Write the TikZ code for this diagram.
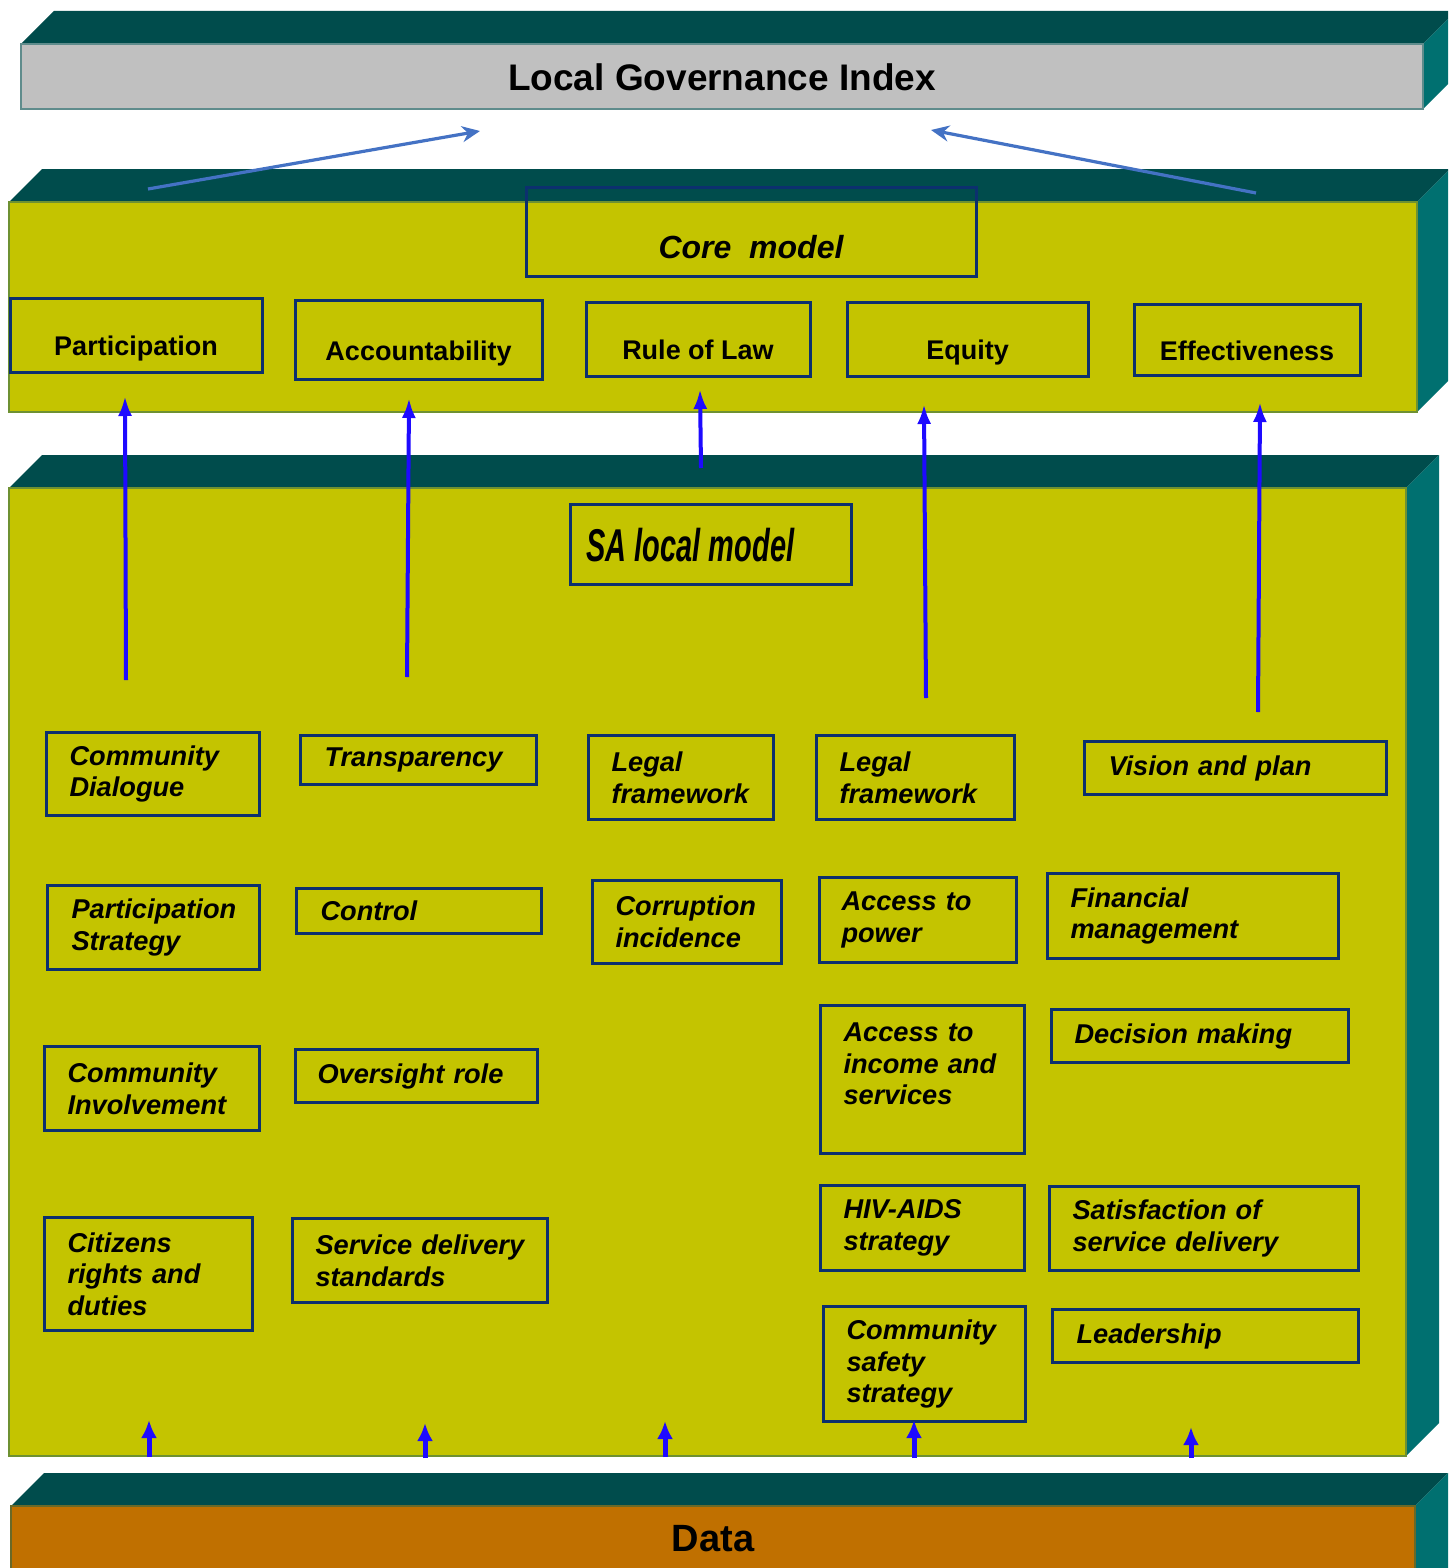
\documentclass[tikz,border=0pt]{standalone}
\usepackage{fontspec}
\setmainfont{Liberation Sans}
\usetikzlibrary{arrows.meta}
\hyphenpenalty=10000
\exhyphenpenalty=10000

\definecolor{slabtop}{RGB}{0,76,76}
\definecolor{slabside}{RGB}{0,112,112}
\definecolor{olivefill}{RGB}{196,196,0}
\definecolor{oliveedge}{RGB}{110,145,50}
\definecolor{lgigrey}{RGB}{192,192,192}
\definecolor{lgiedge}{RGB}{95,140,140}
\definecolor{dataorange}{RGB}{192,112,0}
\definecolor{dataedge}{RGB}{105,105,40}
\definecolor{boxnavy}{RGB}{12,48,110}
\definecolor{linkblue}{RGB}{30,10,255}
\definecolor{indexblue}{RGB}{68,114,196}

% a 3-D slab: front face x1 y1 x2 y2, fill and edge colour of the front
\newcommand\drawslab[6]{%
  \fill[slabtop] (#1,#2) -- (#1+33,#2-33) -- (#3+33,#2-33) -- (#3,#2) -- cycle;
  \fill[slabside] (#3,#2) -- (#3+33,#2-33) -- (#3+33,#4-33) -- (#3,#4) -- cycle;
  \filldraw[fill=#5, draw=#6, line width=1pt] (#1,#2) rectangle (#3,#4);}

% an indicator box: name, x1, y1, x2, y2, left edge of text, text
\newcommand\sabox[7]{%
  \pgfmathsetmacro\sbw{(#4-#2)/2}%
  \pgfmathsetmacro\sbh{(#5-#3)/2}%
  \pgfmathsetmacro\sbp{(#6-#2)/2}%
  \pgfmathsetmacro\sbt{\sbw-2*\sbp}%
  \node[itembox, anchor=north west, minimum width=\sbw pt, minimum height=\sbh pt,
        inner xsep=\sbp pt, text width=\sbt pt] (#1) at (#2,#3) {#7};}

\tikzset{
  corebox/.style={draw=boxnavy, line width=1.5pt, inner sep=0pt,
    font=\fontsize{13.5}{16}\selectfont\bfseries, text height=20.6pt, text depth=0pt},
  itembox/.style={draw=boxnavy, line width=1.5pt, inner ysep=0pt, align=left,
    font=\fontsize{13.6}{15.8}\selectfont\bfseries\itshape},
  corearrow/.style={draw=linkblue, line width=2pt, -{Latex[length=10pt,width=7pt]}},
  basearrow/.style={draw=linkblue, line width=2.5pt, -{Latex[length=9pt,width=8pt]}},
  indexarrow/.style={draw=indexblue, line width=1.6pt, -{Stealth[length=9pt,width=8pt]}},
}

\begin{document}
\begin{tikzpicture}[x=0.5pt, y=-0.5pt]
\useasboundingbox (0,0) rectangle (1448,1568);
\fill[white] (0,0) rectangle (1448,1568);
\clip (0,0) rectangle (1448,1568);

% slabs
\drawslab{21}{44}{1423}{109}{lgigrey}{lgiedge}
\drawslab{9}{202}{1417}{412}{olivefill}{oliveedge}
\drawslab{9}{488}{1406}{1456}{olivefill}{oliveedge}
\drawslab{11}{1506}{1415}{1620}{dataorange}{dataedge}

% slab titles
\node[font=\fontsize{18.5}{20}\selectfont\bfseries] (lgi) at (722,77) {Local Governance Index};
\node[font=\fontsize{19}{21}\selectfont\bfseries] (data) at (713,1539) {Data};

% core model
\node[corebox, minimum width=225pt, minimum height=44.5pt, text height=27pt,
      font=\fontsize{16}{18}\selectfont\bfseries\itshape] (core) at (751,231.5) {Core~ model};
\node[corebox, minimum width=126pt, minimum height=37pt] (part) at (136,335) {Participation};
\node[corebox, minimum width=123.5pt, minimum height=39.5pt] (acc) at (418.5,339.5) {Accountability};
\node[corebox, minimum width=112pt, minimum height=37pt] (rol) at (698,339) {Rule of Law};
\node[corebox, minimum width=120.5pt, minimum height=37pt] (equ) at (967.5,339) {Equity};
\node[corebox, minimum width=113pt, minimum height=35.5pt] (eff) at (1247,339.5) {Effectiveness};

% SA local model
\node[draw=boxnavy, line width=1.5pt, anchor=north west, inner xsep=8pt, inner ysep=0pt,
      minimum height=40pt, text height=17pt, text depth=0pt] (sam) at (569,503)
  {\makebox[124.5pt][l]{\scalebox{0.63}[1]{\fontsize{23}{23}\selectfont\bfseries\itshape SA local model}}};

% indicators
\sabox{cd}{45}{731}{258}{814}{68}{Community\\Dialogue}
\sabox{pst}{46}{884}{258}{968}{70}{Participation\\Strategy}
\sabox{cin}{43}{1045}{258}{1129}{66}{Community\\Involvement}
\sabox{crd}{43}{1216}{251}{1329}{66}{Citizens\\rights~and\\duties}

\sabox{tra}{299}{734}{535}{783}{323}{Transparency}
\sabox{con}{295}{887}{540}{932}{319}{Control}
\sabox{ovr}{294}{1048}{536}{1101}{316}{Oversight~role}
\sabox{sds}{291}{1217}{546}{1301}{314}{Service~delivery\\standards}

\sabox{lfa}{587}{734}{772}{818}{610}{Legal\\framework}
\sabox{cor}{591}{879}{780}{962}{614}{Corruption\\incidence}

\sabox{lfb}{815}{734}{1013}{818}{838}{Legal\\framework}
\sabox{atp}{818}{876}{1015}{961}{840}{Access~to\\power}
\sabox{ais}{819}{1004}{1023}{1152}{842}{Access~to\\income~and\\services\\\mbox{}}
\sabox{hiv}{819}{1184}{1023}{1269}{842}{HIV-AIDS\\strategy}
\sabox{css}{822}{1305}{1024}{1420}{845}{Community\\safety\\strategy}

\sabox{vis}{1083}{740}{1385}{793}{1107}{Vision~and~plan}
\sabox{fin}{1046}{872}{1337}{957}{1069}{Financial\\management}
\sabox{dec}{1050}{1008}{1347}{1061}{1073}{Decision~making}
\sabox{sat}{1048}{1185}{1357}{1269}{1071}{Satisfaction~of\\service~delivery}
\sabox{lea}{1051}{1308}{1357}{1361}{1075}{Leadership}

% arrow ends
\coordinate (i1s) at (148,189);  \coordinate (i1t) at (480,131);
\coordinate (i2s) at (1256,193); \coordinate (i2t) at (931,130);

\coordinate (c1s) at (126,680);  \coordinate (c1t) at (125,396);
\coordinate (c2s) at (407,677);  \coordinate (c2t) at (409,398);
\coordinate (c3s) at (701,468);  \coordinate (c3t) at (700,389);
\coordinate (c4s) at (926,698);  \coordinate (c4t) at (924,404);
\coordinate (c5s) at (1258,712); \coordinate (c5t) at (1260,402);

\coordinate (b1s) at (149,1457);  \coordinate (b1t) at (149,1420);
\coordinate (b2s) at (425,1458);  \coordinate (b2t) at (425,1423);
\coordinate (b3s) at (665,1457);  \coordinate (b3t) at (665,1421);
\coordinate (b4s) at (914,1458);  \coordinate (b4t) at (914,1420);
\coordinate (b5s) at (1191,1458); \coordinate (b5t) at (1191,1427);

% core model feeds the index
\draw[indexarrow] (i1s) -- (i1t);
\draw[indexarrow] (i2s) -- (i2t);

% local model feeds the core principles
\draw[corearrow] (c1s) -- (c1t);
\draw[corearrow] (c2s) -- (c2t);
\draw[corearrow] (c3s) -- (c3t);
\draw[corearrow] (c4s) -- (c4t);
\draw[corearrow] (c5s) -- (c5t);

% data feeds the local model
\draw[basearrow] (b1s) -- (b1t);
\draw[basearrow] (b2s) -- (b2t);
\draw[basearrow] (b3s) -- (b3t);
\draw[basearrow] (b4s) -- (b4t);
\draw[basearrow] (b5s) -- (b5t);
\end{tikzpicture}
\end{document}
